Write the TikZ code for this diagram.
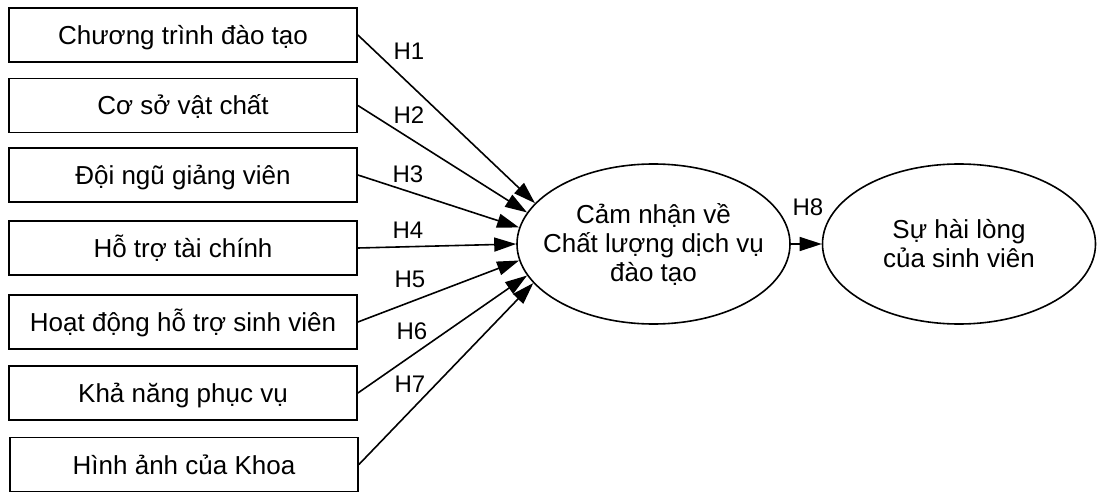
\documentclass[tikz,border=0pt]{standalone}
\usepackage{fontspec}
\setmainfont{Liberation Sans}
\usetikzlibrary{shapes.geometric,arrows.meta}
\begin{document}
\begin{tikzpicture}[x=1pt,y=-1pt,
  fbox/.style={draw,line width=1.8pt,rectangle,minimum width=348pt,minimum height=54pt,inner sep=0pt,font=\fontsize{26}{30}\selectfont,text height=19pt,text depth=0pt},
  oval/.style={draw,line width=1.6pt,ellipse,minimum width=273pt,minimum height=160pt,inner sep=0pt},
  otext/.style={align=center,font=\fontsize{26}{29}\selectfont,inner sep=0pt},
  hlab/.style={font=\fontsize{24}{24}\selectfont,inner sep=0pt,text height=17pt,text depth=0pt},
  link/.style={line width=1.6pt,-{Triangle[length=22pt,width=14pt]}}]
\useasboundingbox (0,0) rectangle (1097,492);
\fill[white] (0,0) rectangle (1097,492);

\node[fbox] (b1) at (183,35) {Chương trình đào tạo};
\node[fbox] (b2) at (183,105.5) {Cơ sở vật chất};
\node[fbox] (b3) at (183,175) {Đội ngũ giảng viên};
\node[fbox] (b4) at (183,248) {Hỗ trợ tài chính};
\node[fbox] (b5) at (183,322) {Hoạt động hỗ trợ sinh viên};
\node[fbox] (b6) at (183,393) {Khả năng phục vụ};
\node[fbox] (b7) at (184,464.5) {Hình ảnh của Khoa};

\node[oval] (e1) at (653.5,244) {};
\node[otext] (t1) at (e1.center) {Cảm nhận về\\Chất lượng dịch vụ\\đào tạo};
\node[oval] (e2) at (959,244) {};
\node[otext] (t2) at (e2.center) {Sự hài lòng\\của sinh viên};

\draw[link] (b1.east) -- (e1.161);
\draw[link] (b2.east) -- (e1.166);
\draw[link] (b3.east) -- (e1.173.5);
\draw[link] (b4.east) -- (e1.180.5);
\draw[link] (b5.east) -- (e1.187.3);
\draw[link] (b6.east) -- (e1.194.2);
\draw[link] (b7.east) -- (e1.198.6);
\draw[link] (e1) -- (e2);

\node[hlab] (h1) at (409,51) {H1};
\node[hlab] (h2) at (409,115) {H2};
\node[hlab] (h3) at (408,174) {H3};
\node[hlab] (h4) at (408,230) {H4};
\node[hlab] (h5) at (410,279) {H5};
\node[hlab] (h6) at (412,331) {H6};
\node[hlab] (h7) at (410,384) {H7};
\node[hlab] (h8) at (808,207) {H8};
\end{tikzpicture}
\end{document}
